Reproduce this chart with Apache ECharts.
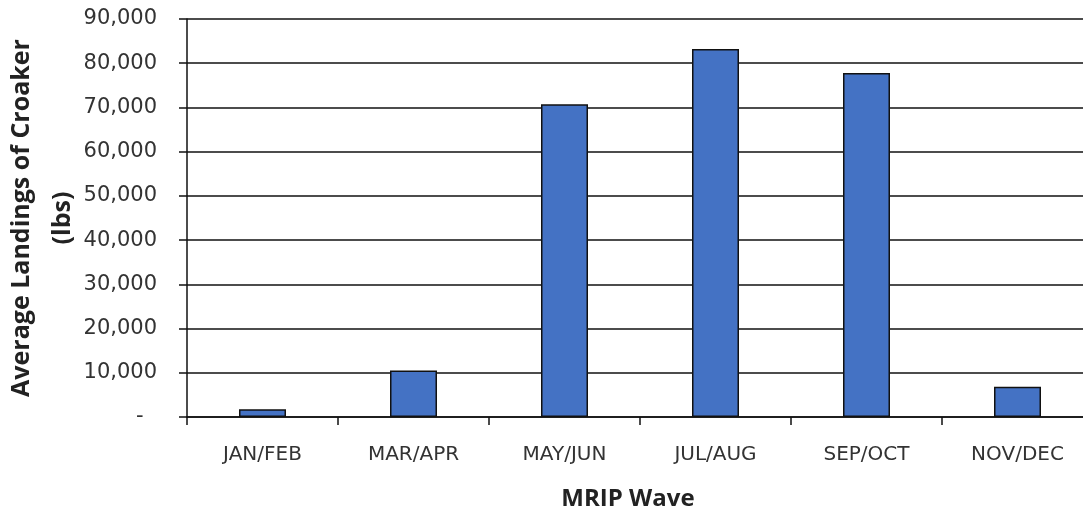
<!DOCTYPE html>
<html>
<head>
<meta charset="utf-8">
<script src="https://cdn.jsdelivr.net/npm/echarts@6/dist/echarts.min.js"></script>
<style>
html, body { margin: 0; padding: 0; background: #fff; }
#main { width: 1083px; height: 512px; }
</style>
</head>
<body>
<div id="main"></div>
<script>
var waves = ['JAN/FEB', 'MAR/APR', 'MAY/JUN', 'JUL/AUG', 'SEP/OCT', 'NOV/DEC'];
var landings = [1750, 10500, 70700, 83200, 77800, 6850];
var yMax = 90000;
var yStep = 10000;

var chart = echarts.init(document.getElementById('main'));
var option = {
    animation: false,
    title: {
        text: 'MRIP Wave',
        left: 623,
        top: 482,
        textAlign: 'center',
        textStyle: { fontFamily: 'Open Sans', fontWeight: 'bold', fontSize: 24, color: '#222' }
    },
    grid: {
        left: 187,
        top: 19,
        bottom: 95,
        right: -10,
        outerBoundsMode: 'none'
    },
    xAxis: {
        type: 'category',
        data: waves,
        axisLine: { lineStyle: { color: '#111', width: 1.5 } },
        axisTick: { show: true, length: 8, lineStyle: { color: '#111', width: 1.5 } },
        axisLabel: {
            margin: 28,
            fontFamily: 'DejaVu Sans',
            fontSize: 20,
            color: '#333'
        }
    },
    yAxis: {
        type: 'value',
        min: 0,
        max: yMax,
        interval: yStep,
        name: 'Average Landings of Croaker\n(lbs)',
        nameLocation: 'middle',
        nameMoveOverlap: false,
        nameGap: 104,
        nameTextStyle: {
            fontFamily: 'Open Sans',
            fontWeight: 'bold',
            fontSize: 25,
            lineHeight: 41,
            color: '#222'
        },
        axisLine: { show: true, lineStyle: { color: '#111', width: 1.5 } },
        axisTick: { show: true, length: 8, lineStyle: { color: '#111', width: 1.5 } },
        splitLine: { lineStyle: { color: '#111', width: 1.5 } },
        axisLabel: {
            margin: 30,
            fontFamily: 'DejaVu Sans',
            fontSize: 21,
            color: '#333',
            formatter: function (v) {
                return v === 0 ? '-  ' : v.toLocaleString('en-US');
            }
        }
    },
    series: [{
        type: 'bar',
        data: landings,
        barWidth: 47,
        itemStyle: { color: '#4472C4', borderColor: '#111', borderWidth: 1.5 }
    }]
};
chart.setOption(option);
</script>
</body>
</html>
